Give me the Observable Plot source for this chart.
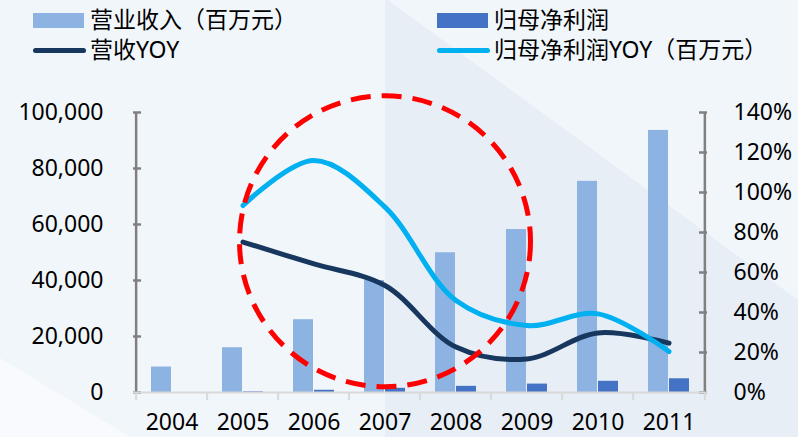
<!DOCTYPE html>
<html>
<head>
<meta charset="utf-8">
<script src="https://cdn.jsdelivr.net/npm/d3@7"></script>
<script src="https://cdn.jsdelivr.net/npm/@observablehq/plot@0.6"></script>
<style>
  html, body { margin: 0; padding: 0; }
  body { width: 798px; height: 437px; overflow: hidden; }
  #wrap { position: relative; width: 798px; height: 437px; background: #f1f6fb; font-family: "Noto Sans", "Noto Sans CJK SC", sans-serif; }
  .bg { position: absolute; left: 0; top: 0; width: 798px; height: 437px; }
  #bgDark { background: #e7eef6; clip-path: polygon(385px 0px, 388px 0px, 798px 300px, 798px 437px, 385px 437px); }
  #bgLight { background: #f8fafd; clip-path: polygon(0px 358px, 130px 437px, 0px 437px); }
  #chart { position: absolute; left: 0; top: 0; }
  .leg { position: absolute; font-size: 23px; line-height: 1; color: #000; white-space: nowrap; }
  .sw { position: absolute; }
</style>
</head>
<body>
<div id="wrap">
  <div class="bg" id="bgDark"></div>
  <div class="bg" id="bgLight"></div>
  <div id="chart"></div>
  <div id="legend"></div>
</div>
<script>
const years = ["2004", "2005", "2006", "2007", "2008", "2009", "2010", "2011"];
const revenue = [9100, 16000, 26000, 40000, 49900, 58200, 75400, 93600];
const netProfit = [0, 250, 800, 1500, 2200, 3000, 4000, 4900];
const revenueYoY = [null, 75.2, 64.3, 53.5, 22.7, 16.8, 29.8, 24.7];
const profitYoY = [null, 93.5, 116, 92.7, 46, 33.5, 39.3, 20.5];
const leftTicks = [0, 20000, 40000, 60000, 80000, 100000];
const rightTicks = [0, 20, 40, 60, 80, 100, 120, 140];
const seriesNames = ["营业收入（百万元）", "归母净利润", "营收YOY", "归母净利润YOY（百万元）"];
const colors = ["#8db3e2", "#4472c4", "#17375e", "#00b0f0"];
const annotation = [{year: "2007", value: 54000}];

const W = 798, H = 437;
const mL = 133, mR = 91, mT = 112, mB = 45;
const plotW = W - mL - mR, plotH = H - mT - mB;
const bw = plotW / years.length;
const k = 100000 / 140;

const data = years.map((year, i) => ({
  year, revenue: revenue[i], netProfit: netProfit[i],
  revYoY: revenueYoY[i], profYoY: profitYoY[i]
}));

const chart = Plot.plot({
  width: W, height: H,
  marginLeft: mL, marginRight: mR, marginTop: mT, marginBottom: mB,
  style: {background: "transparent", fontFamily: '"Noto Sans", "Noto Sans CJK SC", sans-serif', fontSize: "23px", color: "#000"},
  x: {domain: years, padding: 0},
  y: {domain: [0, 100000]},
  marks: [
    Plot.barY(data, {x: "year", y: "revenue", fill: colors[0], insetLeft: 15, insetRight: 36}),
    Plot.barY(data, {x: "year", y: "netProfit", fill: colors[1], insetLeft: 36, insetRight: 15}),
    Plot.ruleY(leftTicks, {stroke: "#808080", strokeWidth: 2.5, insetRight: plotW - 8}),
    Plot.ruleY(rightTicks.map(p => p * k), {stroke: "#808080", strokeWidth: 2.5, insetLeft: plotW - 8}),
    Plot.ruleX([years[0]], {dx: -bw / 2, y1: 0, y2: 100000, stroke: "#808080", strokeWidth: 2.5}),
    Plot.ruleX([years[years.length - 1]], {dx: bw / 2, y1: 0, y2: 100000, stroke: "#808080", strokeWidth: 2.5}),
    Plot.ruleY([0], {stroke: "#d9d9d9", strokeWidth: 2}),
    Plot.ruleX(years, {dx: -bw / 2, stroke: "#d9d9d9", strokeWidth: 2, insetTop: plotH, insetBottom: -8}),
    Plot.ruleX([years[years.length - 1]], {dx: bw / 2, stroke: "#d9d9d9", strokeWidth: 2, insetTop: plotH, insetBottom: -8}),
    Plot.axisX({tickSize: 0, tickPadding: 21, label: null, fontSize: 23}),
    Plot.axisY({anchor: "left", ticks: leftTicks, tickSize: 0, tickPadding: 30, tickFormat: d3.format(","), label: null, fontSize: 23}),
    Plot.axisY({anchor: "right", ticks: rightTicks.map(p => p * k), tickSize: 0, tickPadding: 26, tickFormat: d => Math.round(d / k) + "%", label: null, fontSize: 23}),
    Plot.line(data.filter(d => d.revYoY != null), {x: "year", y: d => d.revYoY * k, curve: "catmull-rom", stroke: colors[2], strokeWidth: 5, strokeLinecap: "round"}),
    Plot.line(data.filter(d => d.profYoY != null), {x: "year", y: d => d.profYoY * k, curve: "catmull-rom", stroke: colors[3], strokeWidth: 5, strokeLinecap: "round"}),
    Plot.dot(annotation, {x: "year", y: "value", r: 145.5, stroke: "#ff0000", strokeWidth: 5, strokeDasharray: "20,11", fill: "none"})
  ]
});
document.getElementById("chart").appendChild(chart);

// Legend
const legend = document.getElementById("legend");
const items = [
  {name: seriesNames[0], color: colors[0], type: "bar", x: 33, y: 20},
  {name: seriesNames[1], color: colors[1], type: "bar", x: 437, y: 20},
  {name: seriesNames[2], color: colors[2], type: "line", x: 33, y: 50},
  {name: seriesNames[3], color: colors[3], type: "line", x: 437, y: 50}
];
for (const it of items) {
  const sw = document.createElement("div");
  sw.className = "sw";
  sw.style.background = it.color;
  if (it.type === "bar") {
    sw.style.left = it.x + "px"; sw.style.top = (it.y - 7.5) + "px";
    sw.style.width = "51px"; sw.style.height = "15px";
  } else {
    sw.style.left = it.x + "px"; sw.style.top = (it.y - 2.5) + "px";
    sw.style.width = "53px"; sw.style.height = "5px"; sw.style.borderRadius = "3px";
  }
  legend.appendChild(sw);
  const t = document.createElement("div");
  t.className = "leg";
  t.textContent = it.name;
  t.style.left = (it.x + 57) + "px";
  t.style.top = (it.y - 12) + "px";
  legend.appendChild(t);
}
</script>
</body>
</html>
